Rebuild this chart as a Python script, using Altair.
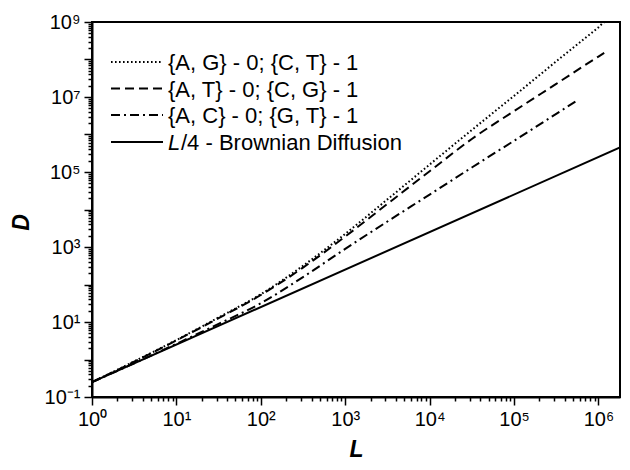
import altair as alt
import pandas as pd

# ---- data (L, D pairs) ----
L_dotted = [1, 3.16, 10, 31.6, 100, 316, 1000, 3160, 1e4, 3.16e4, 1e5, 3.16e5, 1e6, 1.2e6, 1.8e6]
D_dotted = [0.25, 0.89, 3.3, 13.2, 55, 316, 2240, 18600, 1.58e5, 1.32e6, 1.07e7, 8.9e7, 7.2e8, 1e9, 1e9]

L_dashed = [1, 3.16, 10, 31.6, 100, 316, 1000, 3160, 1e4, 3.16e4, 1e5, 3.16e5, 1e6, 1.17e6]
D_dashed = [0.25, 0.87, 3.24, 12.6, 52.5, 282, 1900, 14100, 1.05e5, 7.6e5, 4.2e6, 2.24e7, 1.2e8, 1.5e8]

L_dashdot = [1, 3.16, 10, 31.6, 100, 316, 1000, 3160, 1e4, 3.16e4, 1e5, 3.16e5, 5.6e5]
D_dashdot = [0.25, 0.79, 2.63, 8.9, 31.6, 158, 890, 4790, 2.5e4, 1.32e5, 6.8e5, 3.55e6, 8.1e6]

L_brown = [1, 1.8e6]
D_brown = [0.25, 4.5e5]

legend_labels = ["{A, G} - 0; {C, T} - 1", "{A, T} - 0; {C, G} - 1", "{A, C} - 0; {G, T} - 1"]
brown_label_italic = "L"
brown_label_rest = "/4 - Brownian Diffusion"

x_domain = [1, 1.8e6]
y_domain = [0.1, 1e9]
x_labels = {1: "10⁰", 10: "10¹", 100: "10²", 1000: "10³", 10000: "10⁴", 100000: "10⁵", 1000000: "10⁶"}
y_labels = {0.1: "10⁻¹", 10: "10¹", 1000: "10³", 100000: "10⁵", 10000000: "10⁷", 1000000000: "10⁹"}

# tick values (majors + minors)
x_ticks = [m * 10 ** k for k in range(0, 7) for m in range(1, 10) if m * 10 ** k <= x_domain[1]]
y_ticks = [round(m * 10.0 ** k, 6) if k < 0 else m * 10 ** k for k in range(-1, 10) for m in range(1, 10)
           if m * 10.0 ** k <= y_domain[1] * 1.0001]


def label_expr(mapping):
    parts = [f"datum.value == {v} ? '{t}'" for v, t in mapping.items()]
    return " : ".join(parts) + " : ''"


major_test = "abs(log(datum.value)/LN10 - round(log(datum.value)/LN10)) < 0.001"
FONT = "Liberation Sans"

xaxis = alt.Axis(
    values=x_ticks, labelExpr=label_expr(x_labels),
    tickSize={"condition": {"test": major_test, "value": 8}, "value": 4},
    tickWidth=1.5, tickColor="black", domainColor="black", domainWidth=2,
    labelFont=FONT, labelFontSize=20, labelColor="black", labelPadding=4,
    labelFlush=False, labelOverlap=False, grid=False,
    title="L", titleFont=FONT, titleFontSize=23, titleFontStyle="italic",
    titleFontWeight="bold", titleColor="black", titleY=52, titleBaseline="middle",
)
yaxis = alt.Axis(
    values=y_ticks, labelExpr=label_expr(y_labels),
    tickSize={"condition": {"test": major_test, "value": 8}, "value": 4},
    tickWidth=1.5, tickColor="black", domainColor="black", domainWidth=2,
    labelFont=FONT, labelFontSize=20, labelColor="black", labelPadding=4,
    labelFlush=False, labelOverlap=False, grid=False,
    title="D", titleFont=FONT, titleFontSize=23, titleFontStyle="italic",
    titleFontWeight="bold", titleColor="black", titleX=-71, titleY=200,
    titleBaseline="middle", titleAngle=270,
)

X = alt.X("L:Q", scale=alt.Scale(type="log", domain=x_domain, nice=False), axis=xaxis)
Y = alt.Y("D:Q", scale=alt.Scale(type="log", domain=y_domain, nice=False), axis=yaxis)


def series(Ls, Ds, dash, width):
    df = pd.DataFrame({"L": Ls, "D": Ds})
    kw = dict(color="black", strokeWidth=width, clip=True, interpolate="monotone")
    if dash:
        kw["strokeDash"] = dash
    return alt.Chart(df).mark_line(**kw).encode(x=X, y=Y)


DOT = [1.6, 2.4]
DASH = [9, 5]
DASHDOT = [9, 4, 2, 4]

layers = [
    series(L_brown, D_brown, None, 2),
    series(L_dashdot, D_dashdot, DASHDOT, 2),
    series(L_dashed, D_dashed, DASH, 2),
    series(L_dotted, D_dotted, DOT, 2),
]

# ---- hand-made legend inside the plot ----
one = alt.Data(values=[{}])
rows_y = [40, 66.5, 93, 120]
dashes = [DOT, DASH, DASHDOT, None]
for i, yy in enumerate(rows_y):
    kw = dict(color="black", strokeWidth=2)
    if dashes[i]:
        kw["strokeDash"] = dashes[i]
    layers.append(alt.Chart(one).mark_rule(**kw).encode(
        x=alt.value(19), x2=alt.value(71), y=alt.value(yy)))
for i, lab in enumerate(legend_labels):
    layers.append(alt.Chart(one).mark_text(
        text=lab, font=FONT, fontSize=22, align="left", baseline="middle", color="black"
    ).encode(x=alt.value(76), y=alt.value(rows_y[i] + 1)))
layers.append(alt.Chart(one).mark_text(
    text=brown_label_italic, font=FONT, fontSize=22, fontStyle="italic", align="left",
    baseline="middle", color="black").encode(x=alt.value(76), y=alt.value(rows_y[3] + 1)))
layers.append(alt.Chart(one).mark_text(
    text=brown_label_rest, font=FONT, fontSize=22, align="left",
    baseline="middle", color="black").encode(x=alt.value(89), y=alt.value(rows_y[3] + 1)))

chart = alt.layer(*layers).properties(
    width=528, height=375,
    padding={"left": 84, "top": 14, "right": 2, "bottom": 65},
    autosize="none",
).configure_view(stroke="black", strokeWidth=2)

chart.save("out.html", embed_options={"renderer": "svg", "actions": False})
